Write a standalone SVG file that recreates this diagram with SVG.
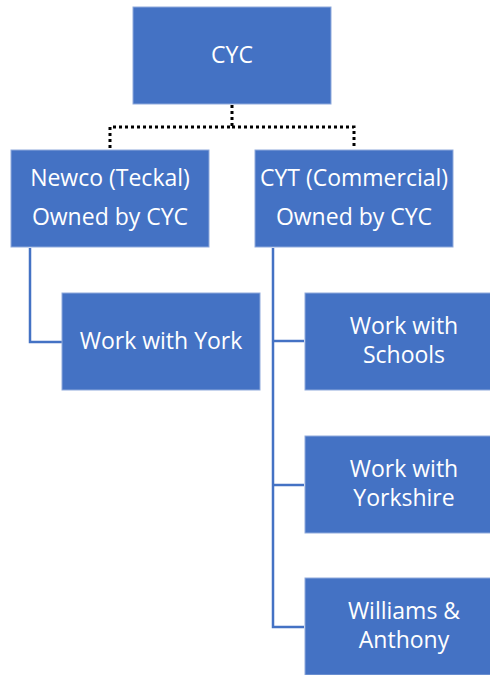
<svg xmlns="http://www.w3.org/2000/svg" width="490" height="675" viewBox="0 0 490 675">
<style>
.box{fill:#4472C4;stroke:#8FAADC;stroke-width:1}
.t{fill:#FFFFFF;font-family:"Open Sans","Liberation Sans",sans-serif;font-size:23px;text-anchor:middle}
.solid{fill:none;stroke:#4472C4;stroke-width:2.5}
.dot{fill:none;stroke:#000000;stroke-width:3;stroke-dasharray:3 3}
</style>
<rect width="490" height="675" fill="#FFFFFF"/>
<g id="connectors">
<polyline class="dot" points="232,105 232,127 110,127 110,149"/>
<polyline class="dot" points="232,127 354,127 354,149"/>
<polyline class="solid" points="30,248 30,342 62,342"/>
<polyline class="solid" points="273,248 273,627 304,627"/>
<line class="solid" x1="273" y1="341" x2="304" y2="341"/>
<line class="solid" x1="273" y1="485" x2="304" y2="485"/>
</g>
<g id="cyc">
<rect class="box" x="133" y="7" width="198" height="97"/>
<text class="t" x="232" y="63">CYC</text>
</g>
<g id="newco">
<rect class="box" x="11" y="150" width="198" height="97"/>
<text class="t" x="110" y="186">Newco (Teckal)</text>
<text class="t" x="110" y="225">Owned by CYC</text>
</g>
<g id="cyt">
<rect class="box" x="255" y="150" width="198" height="97"/>
<text class="t" x="354" y="186">CYT (Commercial)</text>
<text class="t" x="354" y="225">Owned by CYC</text>
</g>
<g id="york">
<rect class="box" x="62" y="293" width="198" height="97"/>
<text class="t" x="161" y="349">Work with York</text>
</g>
<g id="schools">
<rect class="box" x="305" y="293" width="198" height="97"/>
<text class="t" x="404" y="334">Work with</text>
<text class="t" x="404" y="363">Schools</text>
</g>
<g id="yorkshire">
<rect class="box" x="305" y="436" width="198" height="97"/>
<text class="t" x="404" y="477">Work with</text>
<text class="t" x="404" y="506">Yorkshire</text>
</g>
<g id="williams">
<rect class="box" x="305" y="578" width="198" height="97"/>
<text class="t" x="404" y="619">Williams &amp;</text>
<text class="t" x="404" y="648">Anthony</text>
</g>
</svg>
